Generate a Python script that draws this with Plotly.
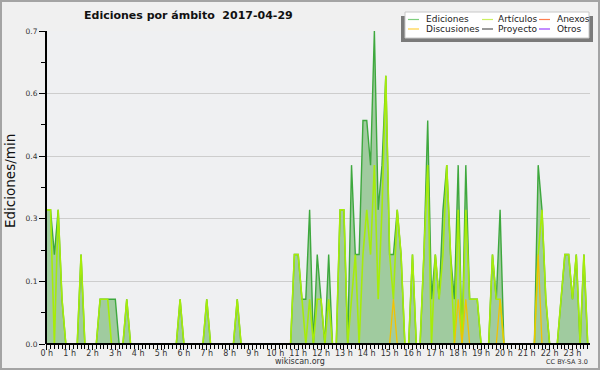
import plotly.graph_objects as go

# ---------------- data (10-minute bins, edits per minute) ----------------
minutes = [i * 10 for i in range(144)]

ediciones = [
    0.3, 0.3, 0.2, 0.3, 0.1, 0.0,   # 0 h
    0.0, 0.0, 0.0, 0.2, 0.0, 0.0,   # 1 h
    0.0, 0.0, 0.1, 0.1, 0.1, 0.1,   # 2 h
    0.1, 0.0, 0.0, 0.1, 0.0, 0.0,   # 3 h
    0.0, 0.0, 0.0, 0.0, 0.0, 0.0,   # 4 h
    0.0, 0.0, 0.0, 0.0, 0.0, 0.1,   # 5 h
    0.0, 0.0, 0.0, 0.0, 0.0, 0.0,   # 6 h
    0.1, 0.0, 0.0, 0.0, 0.0, 0.0,   # 7 h
    0.0, 0.0, 0.1, 0.0, 0.0, 0.0,   # 8 h
    0.0, 0.0, 0.0, 0.0, 0.0, 0.0,   # 9 h
    0.0, 0.0, 0.0, 0.0, 0.0, 0.2,   # 10 h
    0.2, 0.1, 0.1, 0.3, 0.0, 0.2,   # 11 h
    0.1, 0.0, 0.2, 0.0, 0.0, 0.3,   # 12 h
    0.3, 0.0, 0.4, 0.2, 0.2, 0.5,   # 13 h
    0.5, 0.4, 0.7, 0.3, 0.4, 0.6,   # 14 h
    0.2, 0.2, 0.3, 0.2, 0.0, 0.0,   # 15 h
    0.2, 0.0, 0.0, 0.2, 0.5, 0.1,   # 16 h
    0.2, 0.1, 0.3, 0.4, 0.2, 0.1,   # 17 h
    0.4, 0.0, 0.4, 0.1, 0.1, 0.1,   # 18 h
    0.0, 0.0, 0.0, 0.2, 0.1, 0.3,   # 19 h
    0.0, 0.0, 0.0, 0.0, 0.0, 0.0,   # 20 h
    0.0, 0.0, 0.0, 0.4, 0.3, 0.1,   # 21 h
    0.0, 0.0, 0.0, 0.1, 0.2, 0.2,   # 22 h
    0.1, 0.2, 0.0, 0.2, 0.0, 0.0,   # 23 h
]

articulos = [
    0.3, 0.3, 0.0, 0.3, 0.1, 0.0,
    0.0, 0.0, 0.0, 0.2, 0.0, 0.0,
    0.0, 0.0, 0.1, 0.1, 0.1, 0.0,
    0.0, 0.0, 0.0, 0.1, 0.0, 0.0,
    0.0, 0.0, 0.0, 0.0, 0.0, 0.0,
    0.0, 0.0, 0.0, 0.0, 0.0, 0.1,
    0.0, 0.0, 0.0, 0.0, 0.0, 0.0,
    0.1, 0.0, 0.0, 0.0, 0.0, 0.0,
    0.0, 0.0, 0.1, 0.0, 0.0, 0.0,
    0.0, 0.0, 0.0, 0.0, 0.0, 0.0,
    0.0, 0.0, 0.0, 0.0, 0.0, 0.2,
    0.2, 0.1, 0.0, 0.1, 0.0, 0.1,
    0.1, 0.0, 0.1, 0.0, 0.0, 0.3,
    0.3, 0.0, 0.1, 0.2, 0.0, 0.2,
    0.3, 0.2, 0.4, 0.1, 0.3, 0.6,
    0.2, 0.1, 0.3, 0.2, 0.0, 0.0,
    0.2, 0.0, 0.0, 0.2, 0.4, 0.0,
    0.2, 0.1, 0.2, 0.4, 0.2, 0.0,
    0.3, 0.0, 0.3, 0.1, 0.1, 0.1,
    0.0, 0.0, 0.0, 0.2, 0.1, 0.1,
    0.0, 0.0, 0.0, 0.0, 0.0, 0.0,
    0.0, 0.0, 0.0, 0.2, 0.3, 0.1,
    0.0, 0.0, 0.0, 0.1, 0.2, 0.2,
    0.1, 0.2, 0.0, 0.2, 0.0, 0.0,
]

discusiones = [0.0] * 144
for idx, val in [(91, 0.1), (108, 0.1), (110, 0.1), (119, 0.1), (129, 0.2)]:
    discusiones[idx] = val

anexos = [0.0] * 144
proyecto = [0.0] * 144
otros = [0.0] * 144

hour_ticks = [h * 60 for h in range(24)]
hour_labels = [f"{h} h" for h in range(24)]
y_ticks = [0.0, 0.14, 0.28, 0.42, 0.56, 0.70]
y_labels = ["0.0", "0.1", "0.3", "0.4", "0.6", "0.7"]

legend_names = ["Ediciones", "Artículos", "Anexos", "Discusiones", "Proyecto", "Otros"]
legend_colors = ["#7fcf7f", "#ccf060", "#ff7f50", "#ffd040", "#555555", "#9b40ff"]

# ---------------- figure ----------------
FONT = "DejaVu Sans, Verdana, sans-serif"
W, H = 600, 370
L, R, T, B = 46, 10, 31, 26
PW, PH = W - L - R, H - T - B


def px(x):
    return (x - L) / PW


def py(y):
    return (H - B - y) / PH


fig = go.Figure()

for name, vals, col in [("Anexos", anexos, "#ff7f50"), ("Proyecto", proyecto, "#555555"),
                        ("Otros", otros, "#9b40ff")]:
    fig.add_trace(go.Scatter(x=minutes, y=vals, name=name, mode="lines",
                             line=dict(color=col, width=1), showlegend=False,
                             hoverinfo="skip"))

fig.add_trace(go.Scatter(x=minutes, y=ediciones, name="Ediciones", mode="lines",
                         line=dict(color="#3ea83e", width=1.4),
                         fill="tozeroy", fillcolor="#a0cb9f", showlegend=False))
fig.add_trace(go.Scatter(x=minutes, y=articulos, name="Artículos", mode="lines",
                         line=dict(color="#a6ec0a", width=1.6), showlegend=False))
fig.add_trace(go.Scatter(x=minutes, y=discusiones, name="Discusiones", mode="lines",
                         line=dict(color="#f3c200", width=1.3), showlegend=False))

fig.update_layout(
    width=W, height=H,
    margin=dict(l=L, r=R, t=T, b=B, pad=0),
    paper_bgcolor="#f0f0f0",
    plot_bgcolor="#eff0f2",
    font=dict(family=FONT, color="#333333"),
    showlegend=False,
)

fig.update_xaxes(
    range=[-2, 1426], showgrid=False, zeroline=False, showline=False,
    tickmode="array", tickvals=hour_ticks, ticktext=hour_labels,
    ticks="outside", ticklen=5, tickwidth=1, tickcolor="#000000",
    ticklabelstandoff=-4,
    tickfont=dict(size=8, color="#333333", family=FONT),
    minor=dict(tickmode="linear", tick0=0, dtick=10, ticks="outside", ticklen=4,
               tickwidth=1, tickcolor="#000000", showgrid=False),
)
fig.update_yaxes(
    range=[0, 0.7], showgrid=True, gridcolor="#cdcdcd", gridwidth=1,
    zeroline=False, showline=False,
    tickmode="array", tickvals=y_ticks, ticktext=y_labels,
    ticks="outside", ticklen=6, tickwidth=1, tickcolor="#000000",
    tickfont=dict(size=7.5, color="#333333", family=FONT),
    minor=dict(tickmode="linear", tick0=0, dtick=0.07, ticks="outside", ticklen=4,
               tickwidth=1, tickcolor="#000000", showgrid=False),
)

shapes = []
# axis lines (2 px black)
shapes.append(dict(type="line", xref="paper", yref="paper", x0=0, x1=1, y0=0, y1=0,
                   line=dict(color="#000000", width=2), layer="above"))
shapes.append(dict(type="line", xref="paper", yref="paper", x0=0, x1=0, y0=0, y1=1,
                   line=dict(color="#000000", width=2), layer="above"))
# outer frame
shapes.append(dict(type="rect", xref="paper", yref="paper",
                   x0=px(1), x1=px(599), y0=py(369), y1=py(1),
                   line=dict(color="#a4a4a4", width=2), fillcolor="rgba(0,0,0,0)",
                   layer="above"))
# legend shadow + box
shapes.append(dict(type="rect", xref="paper", yref="paper",
                   x0=px(401), x1=px(593), y0=py(42), y1=py(16),
                   line=dict(width=0), fillcolor="#7a7a7a", layer="above"))
shapes.append(dict(type="rect", xref="paper", yref="paper",
                   x0=px(405), x1=px(589), y0=py(38), y1=py(12),
                   line=dict(color="#c8c8c8", width=1), fillcolor="#ffffff",
                   layer="above"))

annotations = []
col_line_x = [408, 482, 539]
col_text_x = [424, 496, 555]
row_y = [19.5, 29]
for k, (name, col) in enumerate(zip(legend_names, legend_colors)):
    r, c = divmod(k, 3)
    yy = py(row_y[r])
    shapes.append(dict(type="line", xref="paper", yref="paper",
                       x0=px(col_line_x[c]), x1=px(col_line_x[c] + 11), y0=yy, y1=yy,
                       line=dict(color=col, width=1.2), layer="above"))
    annotations.append(dict(text=name, xref="paper", yref="paper",
                            x=px(col_text_x[c]), y=yy, xanchor="left", yanchor="middle",
                            showarrow=False, font=dict(size=9, color="#222222", family=FONT)))

annotations.append(dict(text="<b>Ediciones por ámbito  2017-04-29</b>", xref="paper", yref="paper",
                        x=px(188.5), y=py(15), xanchor="center", yanchor="middle",
                        showarrow=False, font=dict(size=11, color="#111111", family=FONT)))
annotations.append(dict(text="Ediciones/min", xref="paper", yref="paper",
                        x=px(10), y=py(181), xanchor="center", yanchor="middle",
                        textangle=-90, showarrow=False,
                        font=dict(size=13.5, color="#111111", family=FONT)))
annotations.append(dict(text="wikiscan.org", xref="paper", yref="paper",
                        x=px(300), y=py(361), xanchor="center", yanchor="middle",
                        showarrow=False, font=dict(size=8, color="#333333", family=FONT)))
annotations.append(dict(text="CC BY-SA 3.0", xref="paper", yref="paper",
                        x=px(590), y=py(362), xanchor="right", yanchor="middle",
                        showarrow=False, font=dict(size=6.5, color="#333333", family=FONT)))

fig.update_layout(shapes=shapes, annotations=annotations)

fig.write_html("out.html", config={"displayModeBar": False},
               post_script="document.body.style.margin='0';document.body.style.padding='0';")
